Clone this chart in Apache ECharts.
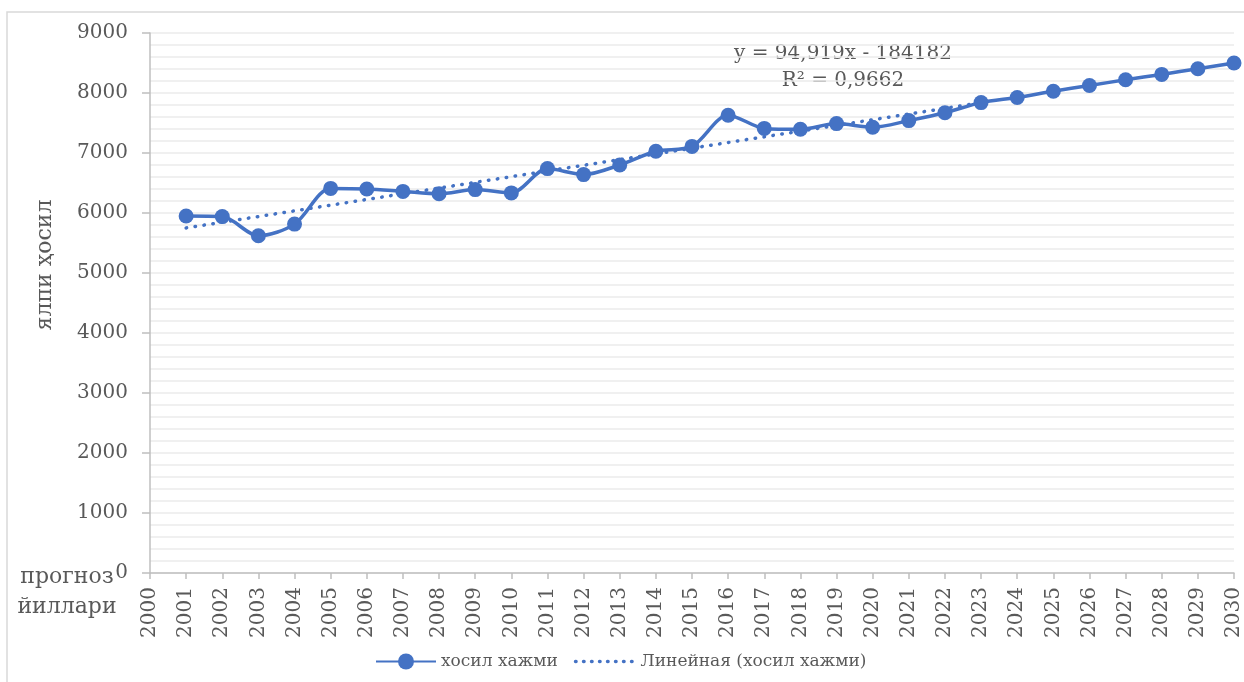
<!DOCTYPE html>
<html>
<head>
<meta charset="utf-8">
<script src="https://cdn.jsdelivr.net/npm/echarts@6/dist/echarts.min.js"></script>
<style>
  html, body { margin: 0; padding: 0; background: #fff; }
</style>
</head>
<body>

<div id="main" style="width: 1244px;height:682px;"></div>

<script type="text/javascript">
    // йиллар ва ялпи ҳосил
    var years = [2001, 2002, 2003, 2004, 2005, 2006, 2007, 2008, 2009, 2010,
                 2011, 2012, 2013, 2014, 2015, 2016, 2017, 2018, 2019, 2020,
                 2021, 2022, 2023, 2024, 2025, 2026, 2027, 2028, 2029, 2030];
    var harvest = [5950, 5940, 5620, 5815, 6410, 6400, 6360, 6320, 6390, 6335,
                   6740, 6640, 6800, 7030, 7110, 7630, 7410, 7395, 7490, 7430,
                   7540, 7670, 7840, 7925, 8030, 8125, 8220, 8310, 8405, 8500];
    // тренд чизиғи (бошланиш ва охири)
    var trendYears = [2001, 2023];
    var trendValues = [5751, 7839];

    var seriesName = 'хосил хажми';
    var trendName = 'Линейная (хосил хажми)';

    var font = 'DejaVu Serif';
    var textColor = '#595959';
    var blue = '#4472C4';

    var myChart = echarts.init(document.getElementById('main'));

    var mainData = years.map(function (y, i) { return [y, harvest[i]]; });
    var trendData = trendYears.map(function (y, i) { return [y, trendValues[i]]; });

    var option = {
        animation: false,
        backgroundColor: '#fff',
        grid: {
            left: 150,
            right: 6,
            top: 33,
            bottom: 109
        },
        legend: {
            left: 370,
            top: 648,
            itemWidth: 60,
            itemHeight: 20,
            itemGap: 16,
            textStyle: { fontFamily: font, fontSize: 17, color: textColor },
            data: [
                seriesName,
                {
                    name: trendName,
                    itemStyle: { color: 'rgba(0,0,0,0)', borderWidth: 0 },
                    lineStyle: { color: blue, width: 3.5, type: [0.5, 7.5], cap: 'round' }
                }
            ]
        },
        xAxis: {
            type: 'value',
            min: 2000,
            max: 2030,
            interval: 1,
            axisLine: { show: true, lineStyle: { color: '#bfbfbf', width: 1.5 } },
            axisTick: { show: true, length: 6, lineStyle: { color: '#bfbfbf', width: 1.5 } },
            splitLine: { show: false },
            axisLabel: {
                rotate: 90,
                margin: 14,
                fontFamily: font,
                fontSize: 20,
                color: textColor,
                formatter: function (v) { return String(v); }
            }
        },
        yAxis: {
            type: 'value',
            min: 0,
            max: 9000,
            interval: 1000,
            axisLine: { show: true, lineStyle: { color: '#bfbfbf', width: 1.5 } },
            axisTick: { show: true, length: 8, lineStyle: { color: '#bfbfbf', width: 1.5 } },
            splitLine: { show: true, lineStyle: { color: '#ebebeb', width: 1.5 } },
            minorTick: { show: false, splitNumber: 5 },
            minorSplitLine: { show: true, lineStyle: { color: '#ebebeb', width: 1.5 } },
            axisLabel: {
                margin: 22,
                fontFamily: font,
                fontSize: 20,
                color: textColor,
                formatter: function (v) { return String(v); }
            }
        },
        graphic: [
            {
                type: 'rect',
                silent: true,
                shape: { x: 7, y: 12, width: 1300, height: 720 },
                style: { fill: 'none', stroke: '#d9d9d9', lineWidth: 1.5 },
                z: -10
            },
            {
                type: 'text',
                x: 45,
                y: 265,
                rotation: Math.PI / 2,
                style: {
                    text: 'ялпи ҳосил',
                    fill: textColor,
                    font: '22px "DejaVu Serif"',
                    textAlign: 'center',
                    textVerticalAlign: 'middle'
                }
            },
            {
                type: 'text',
                x: 67,
                y: 592,
                style: {
                    text: 'прогноз\nйиллари',
                    fill: textColor,
                    font: '22px "DejaVu Serif"',
                    textAlign: 'center',
                    textVerticalAlign: 'middle',
                    lineHeight: 30
                }
            },
            {
                type: 'text',
                x: 843,
                y: 67,
                style: {
                    text: 'y = 94,919x - 184182\nR² = 0,9662',
                    fill: textColor,
                    font: '20px "DejaVu Serif"',
                    textAlign: 'center',
                    textVerticalAlign: 'middle',
                    lineHeight: 27
                }
            }
        ],
        series: [
            {
                name: trendName,
                type: 'line',
                data: trendData,
                symbol: 'none',
                z: 1,
                lineStyle: { color: blue, width: 3.5, type: [0.5, 8.5], cap: 'round' },
                itemStyle: { color: blue }
            },
            {
                name: seriesName,
                type: 'line',
                data: mainData,
                smooth: 0.3,
                symbol: 'circle',
                symbolSize: 15,
                z: 3,
                lineStyle: { color: blue, width: 3.5 },
                itemStyle: { color: blue }
            }
        ]
    };

    myChart.setOption(option);
</script>

</body>
</html>
